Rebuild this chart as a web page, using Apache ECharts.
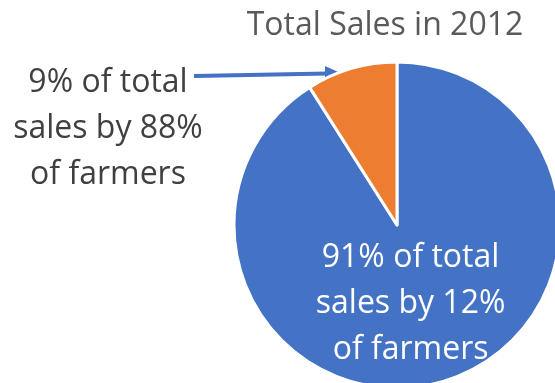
<!DOCTYPE html>
<html>
<head>
<meta charset="utf-8">
<script src="https://cdn.jsdelivr.net/npm/echarts@6/dist/echarts.min.js"></script>
<style>html,body{margin:0;padding:0;background:#fff}#c{width:555px;height:383px}</style>
</head>
<body>
<div id="c"></div>
<script>
var titleText = 'Total Sales in 2012';
var categories = ['Top 12% of farmers', 'Other 88% of farmers'];
var values = [91, 9];
var colors = ['#4472C4', '#ED7D31'];
var sliceLabels = ['91% of total\nsales by 12%\nof farmers', '9% of total\nsales by 88%\nof farmers'];

var FONT = '"Open Sans", sans-serif';
var chart = echarts.init(document.getElementById('c'), null, {renderer: 'canvas'});
chart.setOption({
  backgroundColor: '#ffffff',
  animation: false,
  title: {
    text: titleText,
    left: 380, top: 5, textAlign: 'center',
    textStyle: {fontFamily: FONT, fontWeight: 'normal', fontSize: 32, color: '#595959'}
  },
  series: [{
    type: 'pie',
    center: [397, 225],
    radius: [0, 163],
    startAngle: 90,
    clockwise: true,
    avoidLabelOverlap: false,
    itemStyle: {borderColor: '#ffffff', borderWidth: 3},
    labelLine: {show: false},
    data: categories.map(function (c, i) {
      return {
        name: c,
        value: values[i],
        itemStyle: {color: colors[i]},
        label: i === 0 ? {
          show: true, position: 'inside', formatter: sliceLabels[0],
          offset: [-10, -2],
          fontFamily: FONT, fontSize: 32, lineHeight: 46, color: '#ffffff', align: 'center'
        } : {show: false}
      };
    })
  }],
  graphic: [
    {
      type: 'text', x: 108, y: 60,
      style: {
        text: sliceLabels[1], x: 0, y: 0, textAlign: 'center',
        font: '32px "Open Sans", sans-serif', lineHeight: 46, fill: '#404040'
      }
    },
    {
      type: 'line',
      shape: {x1: 194, y1: 76, x2: 328, y2: 73.5},
      style: {stroke: '#4472C4', lineWidth: 4}
    },
    {
      type: 'polygon',
      shape: {points: [[341, 73.3], [325, 66], [325, 81]]},
      style: {fill: '#4472C4'}
    }
  ]
});
</script>
</body>
</html>
